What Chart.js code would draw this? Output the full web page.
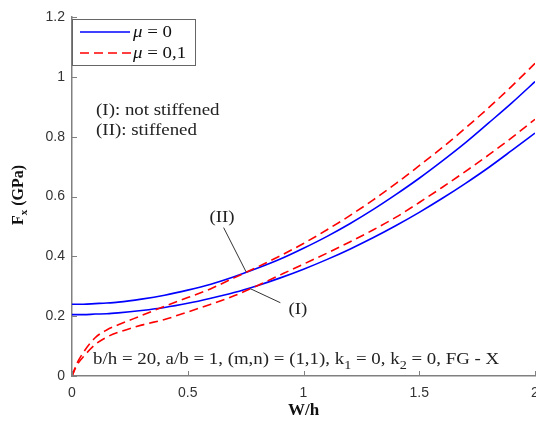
<!DOCTYPE html>
<html lang="en">
<head>
<meta charset="UTF-8">
<title>Fx vs W/h</title>
<script src="https://cdn.jsdelivr.net/npm/chart.js"></script>
<style>
    body {
        margin: 0;
        background: #fff;
    }
    #wrap {
        width: 536px;
        height: 421px;
    }
</style>
</head>
<body>
<div id="wrap"><canvas id="grafico" width="536" height="421"></canvas></div>
<script>
// W/h values (x axis)
const wh = [0, 0.02, 0.05, 0.1, 0.15, 0.2, 0.3, 0.4, 0.5, 0.6, 0.7, 0.8, 0.9, 1.0, 1.1, 1.2, 1.3, 1.4, 1.5, 1.6, 1.7, 1.8, 1.9, 2.0];
// mu = 0, (II) stiffened
const mu0Stiff = [0.240, 0.240, 0.240, 0.242, 0.244, 0.247, 0.257, 0.270, 0.287, 0.307, 0.332, 0.360, 0.391, 0.427, 0.466, 0.509, 0.556, 0.607, 0.661, 0.719, 0.780, 0.846, 0.913, 0.984];
// mu = 0, (I) not stiffened
const mu0Plain = [0.205, 0.205, 0.205, 0.207, 0.208, 0.211, 0.219, 0.229, 0.243, 0.260, 0.279, 0.302, 0.328, 0.357, 0.389, 0.424, 0.462, 0.503, 0.547, 0.594, 0.644, 0.697, 0.754, 0.812];
// mu = 0,1, (II) stiffened
const mu01Stiff = [0, 0.040, 0.080, 0.128, 0.154, 0.171, 0.202, 0.233, 0.262, 0.292, 0.328, 0.364, 0.402, 0.443, 0.488, 0.536, 0.588, 0.644, 0.703, 0.764, 0.829, 0.897, 0.969, 1.045];
// mu = 0,1, (I) not stiffened
const mu01Plain = [0, 0.035, 0.065, 0.105, 0.130, 0.146, 0.170, 0.189, 0.214, 0.240, 0.268, 0.302, 0.338, 0.374, 0.410, 0.448, 0.488, 0.531, 0.580, 0.631, 0.684, 0.739, 0.797, 0.858];

const xTickLabels = ['0', '0.5', '1', '1.5', '2'];
const yTickLabels = ['0', '0.2', '0.4', '0.6', '0.8', '1', '1.2'];

const AZUL = '#0000ff';
const VERMELHO = '#ff0000';
const CINZA = '#808080';
const SERIF = '"Liberation Serif", "Times New Roman", serif';
const SANS = '"Liberation Sans", Arial, sans-serif';
const ESTICA = 1.18; // the serif texts in the figure are a bit wider than normal

function pontos(ys) {
    return wh.map((x, i) => ({ x: x, y: ys[i] }));
}

function serie(ys, cor, tracejado, ordem) {
    return {
        data: pontos(ys),
        borderColor: cor,
        borderWidth: 1.6,
        borderDash: tracejado ? [9, 5] : [],
        pointRadius: 0,
        cubicInterpolationMode: 'monotone',
        fill: false,
        order: ordem
    };
}

// fillText stretched horizontally, returns the drawn width
function textoLargo(ctx, txt, x, y) {
    ctx.save();
    ctx.translate(x, y);
    ctx.scale(ESTICA, 1);
    ctx.fillText(txt, 0, 0);
    ctx.restore();
    return ctx.measureText(txt).width * ESTICA;
}

// text with subscripts: parts = [[text, isSub], ...]
function textoComIndice(ctx, partes, x, y, tam) {
    let cx = x;
    partes.forEach(p => {
        ctx.font = (p[1] ? Math.round(tam * 0.72) : tam) + 'px ' + SERIF;
        cx += textoLargo(ctx, p[0], cx, p[1] ? y + 5 : y);
    });
}

const decoracao = {
    id: 'decoracao',
    afterDatasetsDraw(chart) {
        const ctx = chart.ctx;
        const x = chart.scales.x;
        const y = chart.scales.y;
        const area = chart.chartArea;
        ctx.save();

        // ticks pointing inward
        ctx.strokeStyle = CINZA;
        ctx.lineWidth = 1;
        ctx.setLineDash([]);
        x.ticks.forEach(t => {
            const px = Math.round(x.getPixelForValue(t.value)) + 0.5;
            ctx.beginPath();
            ctx.moveTo(px, area.bottom);
            ctx.lineTo(px, area.bottom - 5);
            ctx.stroke();
        });
        y.ticks.forEach(t => {
            const py = Math.round(y.getPixelForValue(t.value)) + 0.5;
            ctx.beginPath();
            ctx.moveTo(area.left, py);
            ctx.lineTo(area.left + 5, py);
            ctx.stroke();
        });

        // pointer lines for (I) and (II)
        ctx.strokeStyle = '#333';
        ctx.lineWidth = 1;
        ctx.beginPath();
        ctx.moveTo(x.getPixelForValue(0.655), y.getPixelForValue(0.496));
        ctx.lineTo(x.getPixelForValue(0.752), y.getPixelForValue(0.348));
        ctx.moveTo(x.getPixelForValue(0.770), y.getPixelForValue(0.292));
        ctx.lineTo(x.getPixelForValue(0.900), y.getPixelForValue(0.245));
        ctx.stroke();

        ctx.fillStyle = '#222';
        ctx.textBaseline = 'middle';
        ctx.textAlign = 'center';
        ctx.font = '16px ' + SERIF;
        textoLargo(ctx, '(II)', x.getPixelForValue(0.648), y.getPixelForValue(0.528));
        textoLargo(ctx, '(I)', x.getPixelForValue(0.976), y.getPixelForValue(0.221));

        ctx.textAlign = 'left';
        textoLargo(ctx, '(I): not stiffened', x.getPixelForValue(0.104), y.getPixelForValue(0.886));
        textoLargo(ctx, '(II): stiffened', x.getPixelForValue(0.104), y.getPixelForValue(0.819));

        ctx.textBaseline = 'alphabetic';
        textoComIndice(ctx, [
            ['b/h = 20, a/b = 1, (m,n) = (1,1), k', false],
            ['1', true],
            [' = 0, k', false],
            ['2', true],
            [' = 0, FG - X', false]
        ], x.getPixelForValue(0.091), y.getPixelForValue(0.040), 16);

        // legend box
        const lx = area.left, ly = 19, lw = 123, lh = 46;
        ctx.fillStyle = '#fff';
        ctx.fillRect(lx, ly, lw, lh);
        ctx.strokeStyle = '#666';
        ctx.lineWidth = 1;
        ctx.strokeRect(lx + 0.5, ly + 0.5, lw, lh);

        ctx.lineWidth = 1.6;
        ctx.strokeStyle = AZUL;
        ctx.beginPath();
        ctx.moveTo(lx + 8, ly + 13);
        ctx.lineTo(lx + 58, ly + 13);
        ctx.stroke();
        ctx.strokeStyle = VERMELHO;
        ctx.setLineDash([9, 5]);
        ctx.beginPath();
        ctx.moveTo(lx + 8, ly + 34);
        ctx.lineTo(lx + 60, ly + 34);
        ctx.stroke();
        ctx.setLineDash([]);

        ctx.fillStyle = '#111';
        ctx.textBaseline = 'middle';
        const legendas = [['\u03bc', ' = 0', 13], ['\u03bc', ' = 0,1', 34]];
        legendas.forEach(l => {
            let cx = lx + 61;
            ctx.font = 'italic 16px ' + SERIF;
            cx += textoLargo(ctx, l[0], cx, ly + l[2] + 1);
            ctx.font = '16px ' + SERIF;
            textoLargo(ctx, l[1], cx, ly + l[2] + 1);
        });

        // y axis title: F_x (GPa), rotated
        ctx.translate(18, 195);
        ctx.rotate(-Math.PI / 2);
        ctx.fillStyle = '#111';
        ctx.textBaseline = 'alphabetic';
        const fGrande = 'bold 16px ' + SERIF;
        const fPeq = 'bold 11px ' + SERIF;
        ctx.font = fGrande;
        const w1 = ctx.measureText('F').width;
        const w3 = ctx.measureText(' (GPa)').width;
        ctx.font = fPeq;
        const w2 = ctx.measureText('x').width;
        let cx = -(w1 + w2 + w3) / 2;
        ctx.font = fGrande;
        ctx.fillText('F', cx, 5);
        cx += w1;
        ctx.font = fPeq;
        ctx.fillText('x', cx, 9);
        cx += w2;
        ctx.font = fGrande;
        ctx.fillText(' (GPa)', cx, 5);

        ctx.restore();
    }
};

const ctxGrafico = document.getElementById('grafico').getContext('2d');
const grafico = new Chart(ctxGrafico, {
    type: 'line',
    data: {
        datasets: [
            serie(mu0Stiff, AZUL, false, 2),
            serie(mu0Plain, AZUL, false, 2),
            serie(mu01Stiff, VERMELHO, true, 1),
            serie(mu01Plain, VERMELHO, true, 1)
        ]
    },
    options: {
        responsive: false,
        animation: false,
        layout: {
            padding: { top: 17, right: 1, left: 0, bottom: 0 }
        },
        plugins: {
            legend: { display: false },
            tooltip: { enabled: false }
        },
        scales: {
            x: {
                type: 'linear',
                min: 0,
                max: 2,
                grid: { display: false, drawTicks: false },
                border: { display: true, color: CINZA, width: 1.5 },
                ticks: {
                    stepSize: 0.5,
                    padding: 9,
                    color: '#333',
                    maxRotation: 0,
                    font: { family: SANS, size: 14 },
                    callback: (v, i) => xTickLabels[i]
                },
                title: {
                    display: true,
                    text: 'W/h',
                    color: '#111',
                    font: { family: SERIF, size: 17, weight: 'bold' },
                    padding: { top: 1, bottom: 0 }
                },
                afterFit: s => { s.height = 45; s.paddingLeft = 0; s.paddingRight = 0; }
            },
            y: {
                min: 0,
                max: 1.2,
                grid: { display: false, drawTicks: false },
                border: { display: true, color: CINZA, width: 1.5 },
                ticks: {
                    stepSize: 0.2,
                    padding: 7,
                    color: '#333',
                    font: { family: SANS, size: 14 },
                    callback: (v, i) => yTickLabels[i]
                },
                afterFit: s => { s.width = 72; s.paddingTop = 0; s.paddingBottom = 0; }
            }
        }
    },
    plugins: [decoracao]
});
</script>
</body>
</html>
